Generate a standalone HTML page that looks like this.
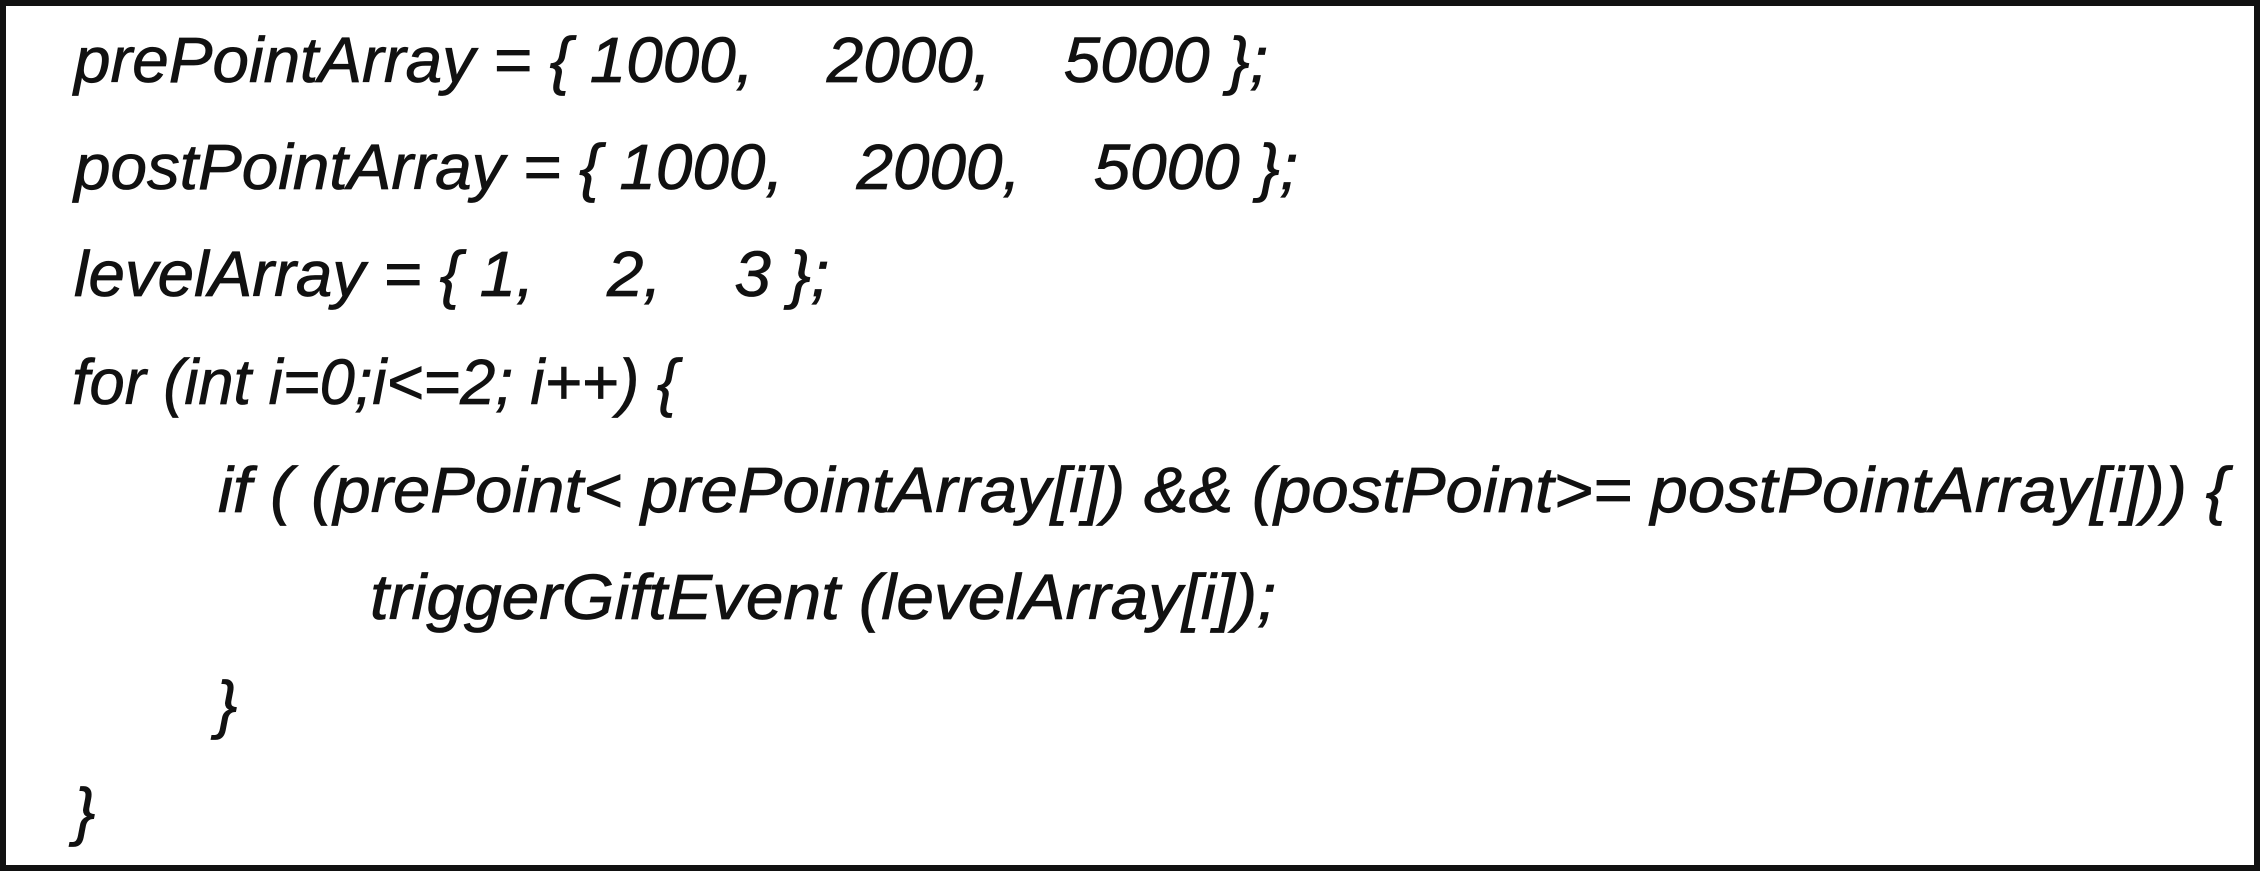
<!DOCTYPE html>
<html><head><meta charset="utf-8"><style>
html,body{margin:0;padding:0;background:#fff;}
svg{display:block;}
text{font-family:"Liberation Sans",sans-serif;font-style:italic;font-size:64px;fill:#111;stroke:#111;stroke-width:0.8px;white-space:pre;}
</style></head><body>
<svg width="2261" height="876" viewBox="0 0 2261 876" xmlns="http://www.w3.org/2000/svg">
<rect x="0" y="0" width="2261" height="876" fill="#fff"/>
<rect x="3" y="3" width="2254" height="865" fill="none" stroke="#111" stroke-width="6"/>
<text x="74" y="82" textLength="1194" lengthAdjust="spacingAndGlyphs" xml:space="preserve">prePointArray = { 1000,    2000,    5000 };</text>
<text x="74" y="189" textLength="1224" lengthAdjust="spacingAndGlyphs" xml:space="preserve">postPointArray = { 1000,    2000,    5000 };</text>
<text x="74" y="296" textLength="755" lengthAdjust="spacingAndGlyphs" xml:space="preserve">levelArray = { 1,    2,    3 };</text>
<text x="72" y="404" textLength="606" lengthAdjust="spacingAndGlyphs" xml:space="preserve">for (int i=0;i&lt;=2; i++) {</text>
<text x="218" y="512" textLength="2010" lengthAdjust="spacingAndGlyphs" xml:space="preserve">if ( (prePoint&lt; prePointArray[i]) &amp;&amp; (postPoint&gt;= postPointArray[i])) {</text>
<text x="370" y="619" textLength="906" lengthAdjust="spacingAndGlyphs" xml:space="preserve">triggerGiftEvent (levelArray[i]);</text>
<text x="216" y="726">}</text>
<text x="74" y="833">}</text>
</svg>
</body></html>
